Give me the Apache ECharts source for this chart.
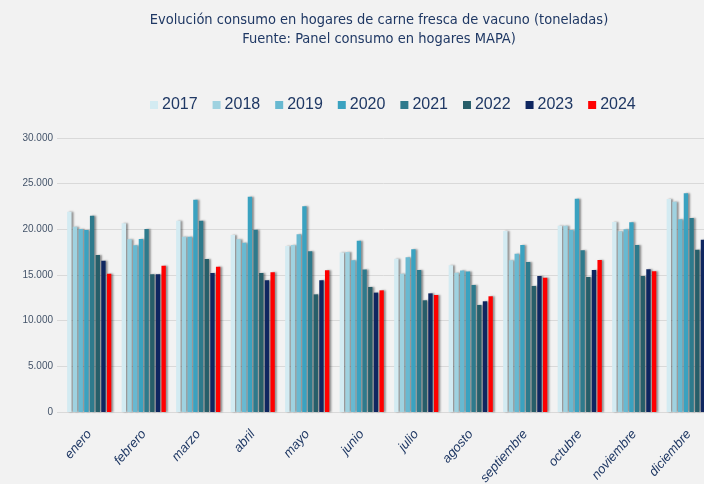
<!DOCTYPE html>
<html>
<head>
<meta charset="utf-8">
<script src="https://cdn.jsdelivr.net/npm/echarts@6/dist/echarts.min.js"></script>
<style>
  html, body { margin: 0; padding: 0; background: #f2f2f2; }
  #chart { width: 704px; height: 484px; }
</style>
</head>
<body>
<div id="chart"></div>
<script>
/* Datos: consumo en hogares de carne fresca de vacuno (toneladas) */
var months = ['enero', 'febrero', 'marzo', 'abril', 'mayo', 'junio', 'julio',
  'agosto', 'septiembre', 'octubre', 'noviembre', 'diciembre'];
var years = ['2017', '2018', '2019', '2020', '2021', '2022', '2023', '2024'];

var v2017 = [21930, 20660, 20950, 19380, 18180, 17450, 16790, 16060, 19820, 20400, 20810, 23320];
var v2018 = [20290, 18910, 19200, 18910, 18290, 17520, 15150, 15260, 16610, 20400, 19790, 23030];
var v2019 = [20040, 18250, 19200, 18540, 19450, 16610, 16940, 15480, 17340, 19930, 20000, 21100];
var v2020 = [19930, 18940, 23250, 23580, 22520, 18760, 17810, 15370, 18290, 23360, 20770, 23950];
var v2021 = [21500, 20040, 20950, 19960, 17590, 15590, 15550, 13910, 16430, 17700, 18290, 21240];
var v2022 = [17190, 15080, 16750, 15220, 12880, 13690, 12230, 11720, 13800, 14780, 14890, 17770];
var v2023 = [16570, 15080, 15220, 14420, 14420, 13070, 12990, 12120, 14890, 15550, 15620, 18870];
var v2024 = [15150, 16020, 15910, 15290, 15510, 13320, 12810, 12670, 14710, 16640, 15400, null];

var yearValues = [v2017, v2018, v2019, v2020, v2021, v2022, v2023, v2024];
var yearColors = ['#d3ebf2', '#9fd2e0', '#68b9d1', '#3aa2c0', '#2e7a8c', '#275e69', '#0f2660', '#ff0000'];

var chartInit = function chartInit() {
  var $chartEl = document.getElementById('chart');
  var chart = echarts.init($chartEl);

  var navy = '#1f3864';

  var series = years.map(function (y, i) {
    return {
      name: y,
      type: 'bar',
      data: yearValues[i],
      barGap: '30%',
      barCategoryGap: '19%',
      itemStyle: {
        color: yearColors[i],
        shadowColor: 'rgba(0, 0, 0, 0.4)',
        shadowBlur: 2,
        shadowOffsetX: 2,
        shadowOffsetY: 0
      }
    };
  });

  var option = {
    backgroundColor: '#f2f2f2',
    animation: false,
    title: {
      text: 'Evolución consumo en hogares de carne fresca de vacuno (toneladas)\nFuente: Panel consumo en hogares MAPA)',
      left: 374,
      top: 6,
      textAlign: 'center',
      textStyle: {
        color: navy,
        fontFamily: '"Liberation Sans Narrow", "DejaVu Sans Condensed", sans-serif',
        fontSize: 14.5,
        fontWeight: 'normal',
        lineHeight: 19
      }
    },
    legend: {
      data: years,
      top: 92,
      left: 145,
      itemWidth: 8,
      itemHeight: 8,
      itemGap: 15,
      icon: 'rect',
      textStyle: {
        color: navy,
        fontFamily: '"Liberation Sans", Arial, sans-serif',
        fontSize: 16,
        padding: [0, 0, 0, -1]
      }
    },
    grid: {
      left: 62,
      right: -12,
      top: 138,
      bottom: 72,
      containLabel: false,
      outerBoundsMode: 'none'
    },
    xAxis: {
      type: 'category',
      data: months,
      axisLine: { show: true, lineStyle: { color: '#d9d9d9', width: 1 } },
      axisTick: { show: false },
      axisLabel: {
        interval: 0,
        rotate: 49,
        margin: 20,
        color: navy,
        fontStyle: 'italic',
        fontFamily: '"Liberation Sans", Arial, sans-serif',
        fontSize: 13
      }
    },
    yAxis: {
      type: 'value',
      min: 0,
      max: 30000,
      interval: 5000,
      axisLine: { show: false },
      axisTick: { show: true, length: 5, lineStyle: { color: '#d9d9d9' } },
      splitLine: { lineStyle: { color: '#d9d9d9', width: 1 } },
      axisLabel: {
        margin: 9,
        color: '#44546a',
        fontFamily: '"Liberation Sans", Arial, sans-serif',
        fontSize: 10,
        // Formato con punto de miles
        formatter: function (value) {
          return String(value).replace(/\B(?=(\d{3})+(?!\d))/g, '.');
        }
      }
    },
    series: series
  };

  chart.setOption(option);
};

chartInit();
</script>
</body>
</html>
